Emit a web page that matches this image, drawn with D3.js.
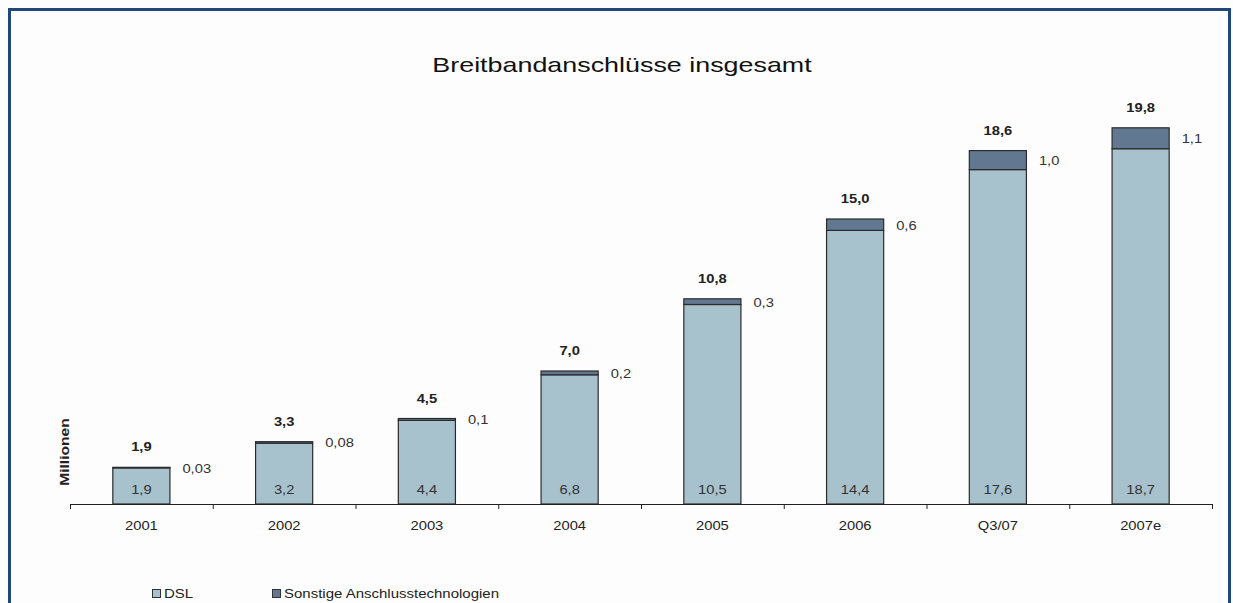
<!DOCTYPE html>
<html lang="de">
<head>
  <meta charset="utf-8">
  <title>Breitbandanschlüsse insgesamt</title>
  <style>
    body { margin: 0; background: #fdfdfd; }
    svg { display: block; font-family: "Liberation Sans", Arial, sans-serif; }
  </style>
  <script src="https://d3js.org/d3.v7.min.js"></script>
</head>
<body>
<script>
  // data
  let categories = ['2001', '2002', '2003', '2004', '2005', '2006', 'Q3/07', '2007e']
  let dsl = [1.9, 3.2, 4.4, 6.8, 10.5, 14.4, 17.6, 18.7]
  let sonstige = [0.03, 0.08, 0.1, 0.2, 0.3, 0.6, 1.0, 1.1]
  let totals = [1.9, 3.3, 4.5, 7.0, 10.8, 15.0, 18.6, 19.8]
  let otherLabels = ['0,03', '0,08', '0,1', '0,2', '0,3', '0,6', '1,0', '1,1']
  let seriesNames = ['DSL', 'Sonstige Anschlusstechnologien']

  let width = 1233
  let height = 603
  let colDsl = '#a7c1cd'
  let colOther = '#627890'
  let sx = 1.18   // the original's text is a bit wider than Liberation Sans
  let fmt = (v) => v.toFixed(1).replace('.', ',')
  let at = (x, y, s = sx) => `translate(${x},${y}) scale(${s},1)`

  let svg = d3.select('body').append('svg')
      .attr('width', width)
      .attr('height', height)

  // frame
  svg.append('path')
      .attr('d', `M9.5,${height} V9.5 H1229.5 V${height}`)
      .attr('fill', 'none')
      .attr('stroke', '#1f4779')
      .attr('stroke-width', 3)

  svg.append('text')
      .attr('transform', at(622, 72, 1.28))
      .attr('text-anchor', 'middle')
      .attr('font-size', 21)
      .attr('fill', '#111')
      .text('Breitbandanschlüsse insgesamt')

  let xScale = d3.scaleBand()
      .domain(categories)
      .range([70, 1212])
      .paddingInner(0.6)
      .paddingOuter(0.3)

  let yScale = d3.scaleLinear()
      .domain([0, 20])
      .range([504, 124])

  let rows = categories.map((c, i) => ({ cat: c, dsl: dsl[i], other: sonstige[i], total: totals[i], lbl: otherLabels[i] }))
  let cx = d => xScale(d.cat) + xScale.bandwidth() / 2

  let g = svg.append('g')

  // DSL segment
  g.selectAll('rect.dsl')
      .data(rows)
      .join('rect')
      .attr('class', 'dsl')
      .attr('x', d => xScale(d.cat))
      .attr('width', xScale.bandwidth())
      .attr('y', d => yScale(d.dsl))
      .attr('height', d => yScale(0) - yScale(d.dsl))
      .attr('fill', colDsl)
      .attr('stroke', '#2b2b2b')
      .attr('stroke-width', 1.2)

  // other segment
  g.selectAll('rect.other')
      .data(rows)
      .join('rect')
      .attr('class', 'other')
      .attr('x', d => xScale(d.cat))
      .attr('width', xScale.bandwidth())
      .attr('y', d => yScale(d.dsl + d.other))
      .attr('height', d => yScale(d.dsl) - yScale(d.dsl + d.other))
      .attr('fill', colOther)
      .attr('stroke', '#2b2b2b')
      .attr('stroke-width', 1.2)

  // axis
  let axisScale = d3.scaleLinear().domain([0, categories.length]).range([70, 1212])
  let xAxis = d3.axisBottom(axisScale)
      .tickValues(d3.range(categories.length + 1))
      .tickSize(5)
      .tickFormat('')
  let ax = svg.append('g')
      .attr('transform', 'translate(0,504)')
      .call(xAxis)
  ax.select('.domain').attr('stroke', '#222').attr('d', 'M70,0.5H1212')
  ax.selectAll('.tick line').attr('stroke', '#222')

  svg.selectAll('text.cat')
      .data(rows)
      .join('text')
      .attr('class', 'cat')
      .attr('transform', d => at(cx(d), 530))
      .attr('text-anchor', 'middle')
      .attr('font-size', 12.5)
      .attr('fill', '#222')
      .text(d => d.cat)

  // DSL values inside
  svg.selectAll('text.dslv')
      .data(rows)
      .join('text')
      .attr('class', 'dslv')
      .attr('transform', d => at(cx(d), 494))
      .attr('text-anchor', 'middle')
      .attr('font-size', 12.5)
      .attr('fill', '#333')
      .text(d => fmt(d.dsl))

  // totals
  svg.selectAll('text.tot')
      .data(rows)
      .join('text')
      .attr('class', 'tot')
      .attr('transform', d => at(cx(d), yScale(d.dsl + d.other) - 16))
      .attr('text-anchor', 'middle')
      .attr('font-size', 12.5)
      .attr('font-weight', 'bold')
      .attr('fill', '#222')
      .text(d => fmt(d.total))

  // other values to the right
  svg.selectAll('text.oth')
      .data(rows)
      .join('text')
      .attr('class', 'oth')
      .attr('transform', d => at(xScale(d.cat) + xScale.bandwidth() + 12.5,
          (yScale(d.dsl) + yScale(d.dsl + d.other)) / 2 + 5))
      .attr('font-size', 12.5)
      .attr('fill', '#333')
      .text(d => d.lbl)

  svg.append('text')
      .attr('transform', 'translate(69,452) rotate(-90) scale(1.25,1)')
      .attr('text-anchor', 'middle')
      .attr('font-size', 12.5)
      .attr('font-weight', 'bold')
      .attr('fill', '#222')
      .text('Millionen')

  // legend
  let legend = svg.append('g')
  let legX = [152, 272]
  let legCol = [colDsl, colOther]
  seriesNames.forEach((n, i) => {
    legend.append('rect')
        .attr('x', legX[i] + 0.5).attr('y', 589.5)
        .attr('width', 8).attr('height', 8)
        .attr('fill', legCol[i]).attr('stroke', '#333')
    legend.append('text')
        .attr('transform', at(legX[i] + 12, 598, 1.2))
        .attr('font-size', 12.5)
        .attr('fill', '#222')
        .text(n)
  })
</script>
</body>
</html>
